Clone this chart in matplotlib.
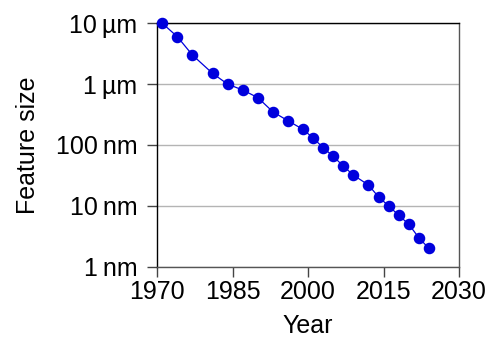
import matplotlib
matplotlib.use("Agg")
import matplotlib.pyplot as plt
from matplotlib.ticker import FixedLocator, FixedFormatter, NullLocator

years = [1971, 1974, 1977, 1981, 1984, 1987, 1990, 1993, 1996, 1999, 2001,
         2003, 2005, 2007, 2009, 2012, 2014, 2016, 2018, 2020, 2022, 2024]
size_nm = [10000, 6000, 3000, 1500, 1000, 800, 600, 350, 250, 180, 130,
           90, 65, 45, 32, 22, 14, 10, 7, 5, 3, 2]
ytick_vals = [1, 10, 100, 1000, 10000]
ytick_labels = ["1\u2009nm", "10\u2009nm", "100\u2009nm", "1\u2009µm", "10\u2009µm"]
xtick_vals = [1970, 1985, 2000, 2015, 2030]

plt.rcParams['font.family'] = ['Liberation Sans', 'DejaVu Sans']
plt.rcParams['font.size'] = 18

fig = plt.figure(figsize=(4.88, 3.39), dpi=100)
ax = fig.add_axes([157.3/488, 1-266.7/339, (459-157.3)/488, (266.7-23.3)/339])
ax.set_yscale('log')
ax.plot(years, size_nm, color='#0000dd', lw=0.9, marker='o', ms=7.3, zorder=3, clip_on=False)
ax.set_xlim(1970, 2030)
ax.set_ylim(1, 10000)
ax.yaxis.set_major_locator(FixedLocator(ytick_vals))
ax.yaxis.set_major_formatter(FixedFormatter(ytick_labels))
ax.yaxis.set_minor_locator(NullLocator())
ax.set_xticks(xtick_vals)
ax.grid(axis='y', color='#b4b4b4', lw=1)
ax.tick_params(direction='out', length=7.5, width=1, colors='#444444', labelcolor='black')
ax.tick_params(axis='y', pad=7)
ax.tick_params(axis='x', pad=2)
for s in ['left', 'top']:
    ax.spines[s].set_color('black')
for s in ['right', 'bottom']:
    ax.spines[s].set_color('#555555')
for s in ax.spines.values():
    s.set_linewidth(1)
ax.set_xlabel('Year', labelpad=7)
ax.set_ylabel('Feature size', labelpad=11)
fig.savefig('out.png', dpi=100)
